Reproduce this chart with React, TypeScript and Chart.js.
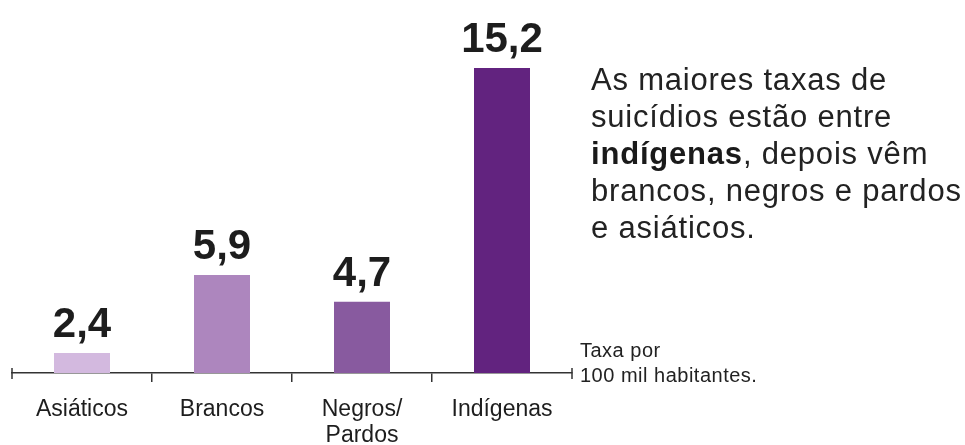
import React, { useEffect, useRef } from "react";
import { Chart, registerables } from "chart.js";

Chart.register(...registerables);

const categories: (string | string[])[] = ["Asiáticos", "Brancos", ["Negros/", "Pardos"], "Indígenas"];
const rates: number[] = [2.4, 5.9, 4.7, 15.2];
const barColors: string[] = ["#d3b9df", "#ad86be", "#885a9f", "#62237f"];
const noteLines: string[] = ["Taxa por", "100 mil habitantes."];

const FONT = '"Liberation Sans", Arial, Helvetica, sans-serif';

const valueLabels = {
  id: "valueLabels",
  afterDatasetsDraw(chart: any) {
    const ctx = chart.ctx;
    const meta = chart.getDatasetMeta(0);
    ctx.save();
    ctx.fillStyle = "#1d1d1d";
    ctx.font = `bold 42px ${FONT}`;
    ctx.textAlign = "center";
    ctx.textBaseline = "alphabetic";
    meta.data.forEach((bar: any, i: number) => {
      const v = rates[i];
      ctx.fillText(v.toFixed(1).replace(".", ","), bar.x, bar.y - 16);
    });
    // end ticks centred on the axis line
    const { left, right, bottom } = chart.chartArea;
    ctx.strokeStyle = "#333";
    ctx.lineWidth = 1.5;
    [left, right].forEach((x: number) => {
      ctx.beginPath();
      ctx.moveTo(x, bottom - 5);
      ctx.lineTo(x, bottom + 6);
      ctx.stroke();
    });
    ctx.restore();
  },
};

export default function App() {
  const ref = useRef<HTMLCanvasElement | null>(null);

  useEffect(() => {
    if (!ref.current) return;
    const chart = new Chart(ref.current, {
      type: "bar",
      data: {
        labels: categories as any,
        datasets: [
          {
            data: rates,
            backgroundColor: barColors,
            borderWidth: 0,
            barPercentage: 0.4,
            categoryPercentage: 1,
          },
        ],
      },
      options: {
        responsive: false,
        animation: false,
        devicePixelRatio: 1,
        layout: { padding: { left: 12, right: 393, top: 68, bottom: 0 } },
        plugins: {
          legend: { display: false },
          tooltip: { enabled: false },
          title: { display: false },
        },
        scales: {
          x: {
            offset: true,
            afterFit: (scale: any) => {
              scale.height = 72;
            },
            border: { display: true, color: "#333", width: 1.5 },
            grid: {
              display: true,
              offset: true,
              drawOnChartArea: false,
              drawTicks: true,
              tickLength: 9,
              lineWidth: 1.5,
              color: (c: any) => (c.type === "tick" && c.index > 0 ? "#333" : "rgba(0,0,0,0)"),
            },
            ticks: {
              color: "#1d1d1d",
              padding: 15,
              font: { family: FONT, size: 23, lineHeight: 1.13 },
            },
          },
          y: {
            display: false,
            min: 1.5,
            max: 15.2,
          },
        },
      },
      plugins: [valueLabels],
    });
    return () => chart.destroy();
  }, []);

  return (
    <div
      style={{
        position: "absolute",
        left: 0,
        top: 0,
        width: 965,
        height: 445,
        background: "#fff",
        overflow: "hidden",
      }}
    >
      <canvas ref={ref} width={965} height={445} style={{ position: "absolute", left: 0, top: 0, width: 965, height: 445 }} />
      <div
        style={{
          position: "absolute",
          left: 591,
          top: 61,
          fontFamily: FONT,
          fontSize: 31,
          lineHeight: "37px",
          letterSpacing: "0.8px",
          color: "#222",
          whiteSpace: "nowrap",
        }}
      >
        As maiores taxas de
        <br />
        suicídios estão entre
        <br />
        <b style={{ fontWeight: 700, color: "#1a1a1a" }}>indígenas</b>, depois vêm
        <br />
        brancos, negros e pardos
        <br />
        e asiáticos.
      </div>
      <div
        style={{
          position: "absolute",
          left: 580,
          top: 338,
          fontFamily: FONT,
          fontSize: 20,
          lineHeight: "25px",
          letterSpacing: "0.5px",
          color: "#222",
          whiteSpace: "nowrap",
        }}
      >
        {noteLines[0]}
        <br />
        {noteLines[1]}
      </div>
    </div>
  );
}
